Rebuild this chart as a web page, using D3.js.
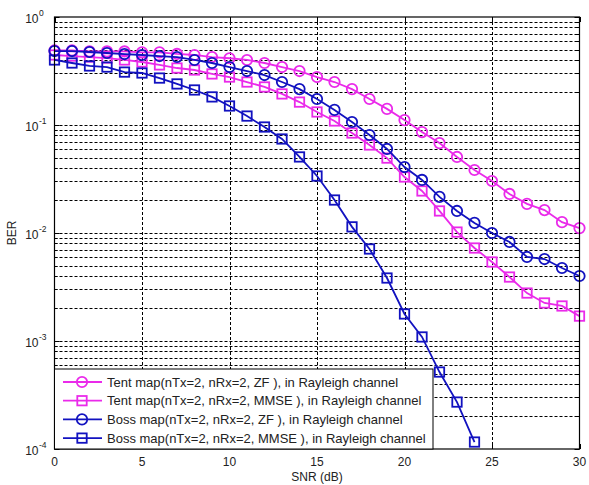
<!DOCTYPE html>
<html><head><meta charset="utf-8">
<script src="https://cdn.jsdelivr.net/npm/d3@7"></script>
<style>body{margin:0;background:#fff}svg{display:block}</style>
</head><body>
<script>
const snrFull = d3.range(0, 31);
const snrBossMMSE = d3.range(0, 25);
const tentZF = [0.49,0.49,0.48,0.48,0.48,0.47,0.47,0.455,0.445,0.426,0.415,0.40,0.375,0.344,0.316,0.278,0.25,0.215,0.174,0.141,0.111,0.086,0.068,0.0506,0.0383,0.0303,0.023,0.0186,0.0163,0.0126,0.0111];
const tentMMSE = [0.445,0.435,0.426,0.417,0.40,0.383,0.36,0.337,0.323,0.297,0.278,0.25,0.225,0.194,0.163,0.132,0.109,0.0843,0.0653,0.0494,0.033,0.0245,0.016,0.0102,0.00726,0.00539,0.00391,0.00278,0.00225,0.00211,0.0017];
const bossZF = [0.484,0.484,0.474,0.464,0.454,0.445,0.435,0.426,0.40,0.375,0.344,0.316,0.29,0.25,0.215,0.174,0.138,0.1066,0.0808,0.060,0.0408,0.031,0.0216,0.016,0.0124,0.0100,0.00826,0.006,0.00574,0.00474,0.004];
const bossMMSE = [0.40,0.375,0.352,0.344,0.309,0.303,0.272,0.240,0.211,0.182,0.150,0.121,0.0958,0.0742,0.0506,0.0337,0.0202,0.0114,0.00711,0.00383,0.00178,0.00109,0.000516,0.000272,0.000116];
const xTicks = [0,5,10,15,20,25,30];
const yExponents = [0,-1,-2,-3,-4];
const seriesNames = [
  "Tent map(nTx=2, nRx=2, ZF ), in Rayleigh channel",
  "Tent map(nTx=2, nRx=2, MMSE ), in Rayleigh channel",
  "Boss map(nTx=2, nRx=2, ZF ), in Rayleigh channel",
  "Boss map(nTx=2, nRx=2, MMSE ), in Rayleigh channel"
];

const series = [
  {name: seriesNames[0], x: snrFull, y: tentZF, color: "#ea2aea", marker: "circle"},
  {name: seriesNames[1], x: snrFull, y: tentMMSE, color: "#ea2aea", marker: "square"},
  {name: seriesNames[2], x: snrFull, y: bossZF, color: "#1212c0", marker: "circle"},
  {name: seriesNames[3], x: snrBossMMSE, y: bossMMSE, color: "#1212c0", marker: "square"}
];

const W = 589, H = 485;
const m = {left: 54.5, right: 9.5, top: 17, bottom: 36};
const x = d3.scaleLinear().domain([0, 30]).range([m.left, W - m.right]);
const y = d3.scaleLog().domain([1e-4, 1]).range([H - m.bottom, m.top]);

const svg = d3.select("body").append("svg").attr("width", W).attr("height", H)
  .style("font-family", "Arial, 'Liberation Sans', sans-serif");

// grid
const g = svg.append("g");
const minorVals = [];
for (let e = -4; e < 0; e++) for (let k = 1; k <= 9; k++) minorVals.push(k * Math.pow(10, e));
minorVals.push(1);
g.selectAll("line.hg").data(minorVals.filter(v => v > 1e-4 && v < 1)).enter().append("line")
  .attr("x1", x(0)).attr("x2", x(30)).attr("y1", d => Math.round(y(d)) + 0.5).attr("y2", d => Math.round(y(d)) + 0.5)
  .attr("stroke", "#000").attr("stroke-width", 1).attr("stroke-dasharray", "3,2");
g.selectAll("line.vg").data(xTicks.filter(d => d > 0 && d < 30)).enter().append("line")
  .attr("x1", d => Math.round(x(d)) + 0.5).attr("x2", d => Math.round(x(d)) + 0.5).attr("y1", y(1)).attr("y2", y(1e-4))
  .attr("stroke", "#000").attr("stroke-width", 1).attr("stroke-dasharray", "3,2");

// ticks (inward)
const tk = svg.append("g").attr("stroke", "#000").attr("stroke-width", 1);
xTicks.forEach(d => {
  const px = Math.round(x(d)) + 0.5;
  tk.append("line").attr("x1", px).attr("x2", px).attr("y1", y(1e-4)).attr("y2", y(1e-4) - 5);
  tk.append("line").attr("x1", px).attr("x2", px).attr("y1", y(1)).attr("y2", y(1) + 5);
});
minorVals.forEach(v => {
  const py = Math.round(y(v)) + 0.5;
  const len = Math.abs(Math.log10(v) - Math.round(Math.log10(v))) < 1e-9 ? 5 : 3;
  tk.append("line").attr("x1", x(0)).attr("x2", x(0) + len).attr("y1", py).attr("y2", py);
  tk.append("line").attr("x1", x(30)).attr("x2", x(30) - len).attr("y1", py).attr("y2", py);
});

// lines and markers
const line = d3.line().x(d => x(d[0])).y(d => y(d[1]));
series.forEach(s => {
  const pts = s.x.map((v, i) => [v, s.y[i]]);
  svg.append("path").attr("d", line(pts)).attr("fill", "none").attr("stroke", s.color).attr("stroke-width", 1.8);
  const mg = svg.append("g");
  pts.forEach(p => {
    if (s.marker === "circle") {
      mg.append("circle").attr("cx", x(p[0])).attr("cy", y(p[1])).attr("r", 5.2)
        .attr("fill", "none").attr("stroke", s.color).attr("stroke-width", 1.8);
    } else {
      mg.append("rect").attr("x", x(p[0]) - 4.7).attr("y", y(p[1]) - 4.7).attr("width", 9.4).attr("height", 9.4)
        .attr("fill", "none").attr("stroke", s.color).attr("stroke-width", 1.8);
    }
  });
});

// axes box
svg.append("rect").attr("x", x(0)).attr("y", y(1)).attr("width", x(30) - x(0)).attr("height", y(1e-4) - y(1))
  .attr("fill", "none").attr("stroke", "#000").attr("stroke-width", 1.2);

// x tick labels
svg.selectAll("text.xt").data(xTicks).enter().append("text")
  .attr("x", d => x(d)).attr("y", 466).attr("text-anchor", "middle").attr("font-size", 12).attr("fill", "#222").text(d => d);
// y tick labels
yExponents.forEach(e => {
  svg.append("text").attr("x", 38.5).attr("y", y(Math.pow(10, e)) + 6).attr("text-anchor", "end")
    .attr("font-size", 12).attr("fill", "#222").text("10");
  svg.append("text").attr("x", 39).attr("y", y(Math.pow(10, e)) - 1).attr("font-size", 8.5).attr("fill", "#222").text(String(e));
});
// axis labels
svg.append("text").attr("x", 317).attr("y", 481).attr("text-anchor", "middle").attr("font-size", 12).attr("fill", "#222").text("SNR (dB)");
svg.append("text").attr("transform", "translate(16,233) rotate(-90)").attr("text-anchor", "middle").attr("font-size", 12).attr("fill", "#222").text("BER");

// legend
const lg = svg.append("g");
const lx0 = x(0), ly0 = 369, lw = 433 - x(0), lh = y(1e-4) - ly0;
lg.append("rect").attr("x", lx0).attr("y", ly0).attr("width", lw).attr("height", lh)
  .attr("fill", "#fff").attr("stroke", "#000").attr("stroke-width", 1);
series.forEach((s, i) => {
  const cy = 382 + i * 18.7;
  lg.append("line").attr("x1", 63).attr("x2", 102).attr("y1", cy).attr("y2", cy).attr("stroke", s.color).attr("stroke-width", 1.8);
  if (s.marker === "circle") lg.append("circle").attr("cx", 82).attr("cy", cy).attr("r", 5.2).attr("fill", "none").attr("stroke", s.color).attr("stroke-width", 1.8);
  else lg.append("rect").attr("x", 77.3).attr("y", cy - 4.7).attr("width", 9.4).attr("height", 9.4).attr("fill", "none").attr("stroke", s.color).attr("stroke-width", 1.8);
  lg.append("text").attr("x", 107).attr("y", cy + 4.5).attr("font-size", 13).attr("fill", "#222").text(s.name);
});
</script>
</body></html>
